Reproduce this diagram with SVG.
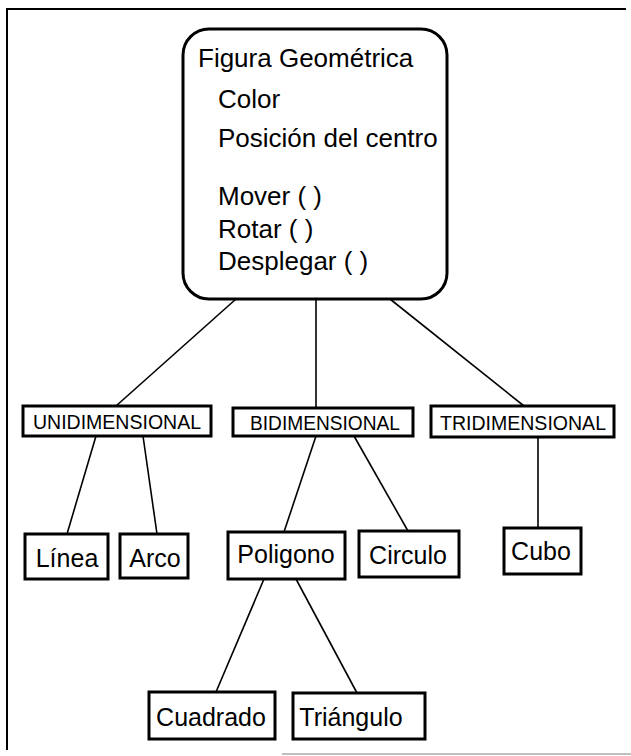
<svg xmlns="http://www.w3.org/2000/svg" width="631" height="756" viewBox="0 0 631 756">
  <style>
    .frame { fill: none; stroke: #000; stroke-width: 2; }
    .box { fill: #fff; stroke: #000; stroke-width: 3; }
    .link { fill: none; stroke: #000; stroke-width: 1.6; }
    .big { font-family: "Liberation Sans", Arial, sans-serif; font-size: 26px; fill: #000; }
    .caps { font-family: "Liberation Sans", Arial, sans-serif; font-size: 20px; fill: #000; }
    .lbl { font-family: "Liberation Sans", Arial, sans-serif; font-size: 25px; fill: #000; }
  </style>

  <rect width="631" height="756" fill="#fff"/>

  <!-- page frame -->
  <g id="frame">
    <path class="frame" d="M7,750 V9 H626"/>
    <line x1="282" y1="754" x2="631" y2="754" stroke="#aaa" stroke-width="1.5"/>
  </g>

  <!-- connectors -->
  <g id="connectors">
    <line class="link" x1="236" y1="299" x2="116" y2="406"/>
    <line class="link" x1="316" y1="299" x2="316" y2="408"/>
    <line class="link" x1="390" y1="299" x2="524" y2="406"/>
    <line class="link" x1="96" y1="436" x2="67" y2="534"/>
    <line class="link" x1="143" y1="436" x2="157" y2="534"/>
    <line class="link" x1="316" y1="436" x2="284" y2="532"/>
    <line class="link" x1="354" y1="436" x2="408" y2="531"/>
    <line class="link" x1="538" y1="437" x2="538" y2="528" stroke-width="2.6"/>
    <line class="link" x1="264" y1="579" x2="216" y2="692"/>
    <line class="link" x1="296" y1="579" x2="357" y2="693"/>
  </g>

  <!-- root class -->
  <g id="figura">
    <rect class="box" x="183" y="29" width="264" height="270" rx="26" ry="26"/>
    <text class="big" x="198" y="67">Figura Geométrica</text>
    <text class="big" x="218" y="108">Color</text>
    <text class="big" x="218" y="147">Posición del centro</text>
    <text class="big" x="218" y="205">Mover ( )</text>
    <text class="big" x="218" y="238">Rotar ( )</text>
    <text class="big" x="218" y="270">Desplegar ( )</text>
  </g>

  <g id="unidimensional">
    <rect class="box" x="23" y="406" width="188" height="30"/>
    <text class="caps" x="33" y="429" textLength="168" lengthAdjust="spacingAndGlyphs">UNIDIMENSIONAL</text>
  </g>
  <g id="bidimensional">
    <rect class="box" x="233" y="408" width="180" height="28"/>
    <text class="caps" x="250" y="430" textLength="150" lengthAdjust="spacingAndGlyphs">BIDIMENSIONAL</text>
  </g>
  <g id="tridimensional">
    <rect class="box" x="431" y="406" width="183" height="31"/>
    <text class="caps" x="440" y="430" textLength="166" lengthAdjust="spacingAndGlyphs">TRIDIMENSIONAL</text>
  </g>

  <g id="linea">
    <rect class="box" x="25" y="534" width="83" height="45"/>
    <text class="lbl" x="67" y="567" text-anchor="middle">Línea</text>
  </g>
  <g id="arco">
    <rect class="box" x="120" y="534" width="68" height="44"/>
    <text class="lbl" x="155" y="567" text-anchor="middle">Arco</text>
  </g>
  <g id="poligono">
    <rect class="box" x="228" y="532" width="117" height="47"/>
    <text class="lbl" x="286" y="563" text-anchor="middle">Poligono</text>
  </g>
  <g id="circulo">
    <rect class="box" x="359" y="531" width="100" height="46"/>
    <text class="lbl" x="408" y="564" text-anchor="middle">Circulo</text>
  </g>
  <g id="cubo">
    <rect class="box" x="504" y="528" width="77" height="46"/>
    <text class="lbl" x="541" y="560" text-anchor="middle">Cubo</text>
  </g>
  <g id="cuadrado">
    <rect class="box" x="149" y="692" width="126" height="47"/>
    <text class="lbl" x="211" y="726" text-anchor="middle">Cuadrado</text>
  </g>
  <g id="triangulo">
    <rect class="box" x="293" y="693" width="132" height="46"/>
    <text class="lbl" x="351" y="726" text-anchor="middle">Triángulo</text>
  </g>
</svg>
